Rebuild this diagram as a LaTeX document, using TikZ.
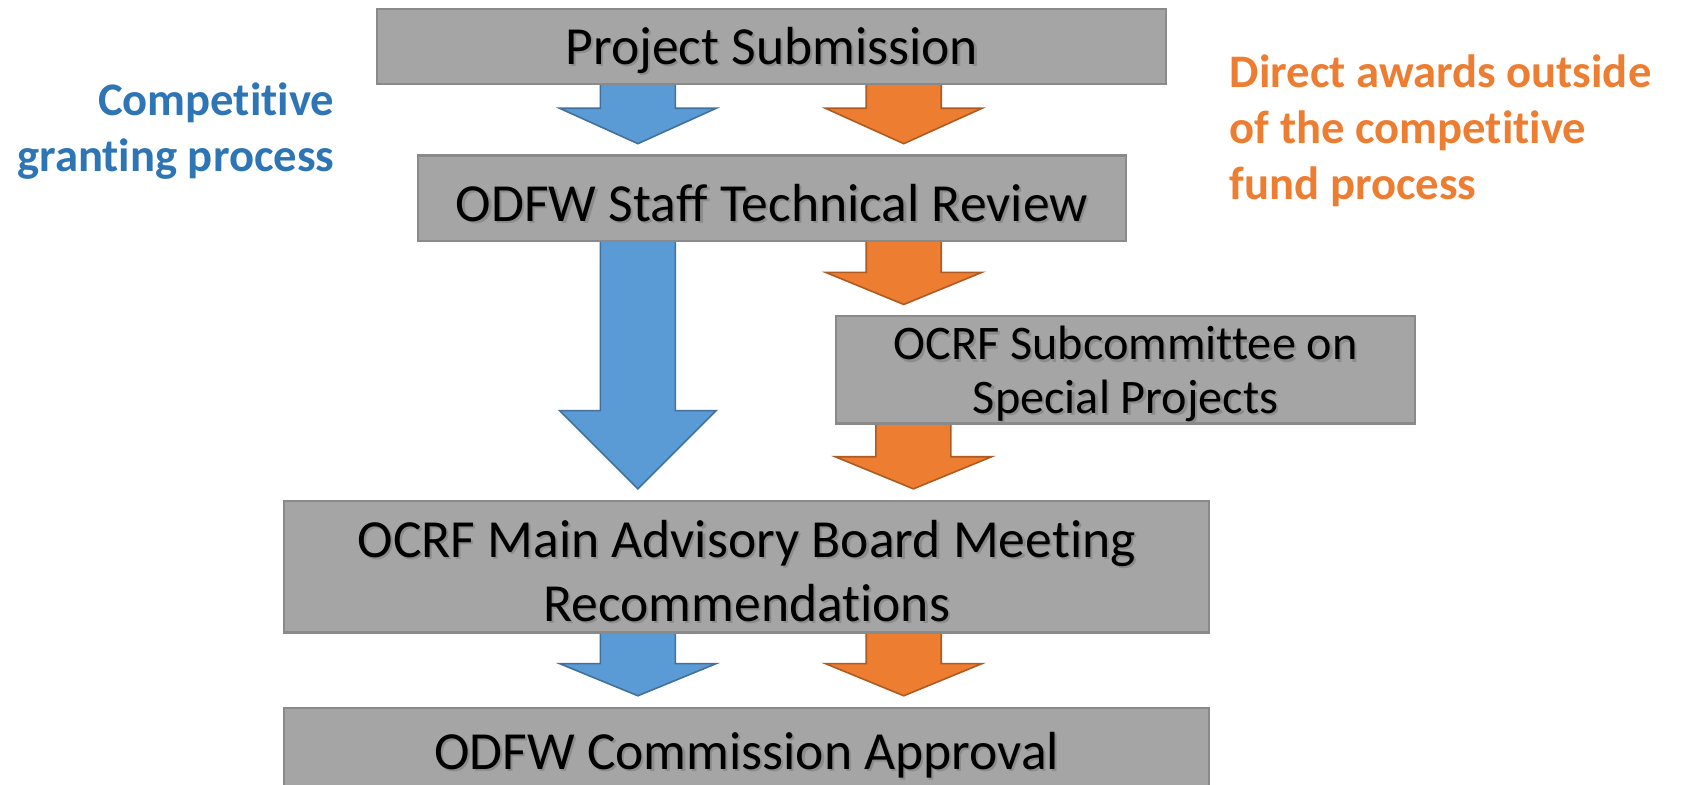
\documentclass[tikz,border=0pt]{standalone}
\usepackage{fontspec}
\setmainfont[Ligatures={NoCommon}]{Carlito}
\usetikzlibrary{calc}
\definecolor{boxgray}{HTML}{A5A5A5}
\definecolor{boxline}{HTML}{8A8A8A}
\definecolor{bfill}{HTML}{5B9BD5}
\definecolor{bline}{HTML}{41719C}
\definecolor{ofill}{HTML}{ED7D31}
\definecolor{oline}{HTML}{AE5A21}
\definecolor{btext}{HTML}{2E75B6}
\definecolor{otext}{HTML}{ED7D31}
\pgfdeclarelayer{bg}
\pgfsetlayers{bg,main}
% #1 style, #2 x centre, #3 from anchor, #4 to anchor, #5 head length
\newcommand\blockarrow[5]{%
  \begin{pgfonlayer}{bg}
  \filldraw[#1] let \p1=(#3), \p2=(#4) in
    ({#2pt-35pt},\y1+4pt) -- ({#2pt+35pt},\y1+4pt) -- ({#2pt+35pt},\y2+10pt+#5pt)
    -- ({#2pt+73pt},\y2+10pt+#5pt) -- (#2pt,\y2+10pt) -- ({#2pt-73pt},\y2+10pt+#5pt)
    -- ({#2pt-35pt},\y2+10pt+#5pt) -- cycle;
  \end{pgfonlayer}}
% #1 style, #2 name, #3 position, #4 text
\newcommand\shtext[4]{%
  \node[#1,shadowtxt] (#2s) at (#3) {#4};
  \node[#1,yshift=-4pt] (#2t) at (#3) {#4};}
\begin{document}
\begin{tikzpicture}[x=1pt,y=-1pt,
  stepbox/.style={draw=boxline, fill=boxgray, line width=2pt, inner sep=0pt},
  boxtxt/.style={font=\fontsize{50}{60}\selectfont, align=center, inner sep=0pt},
  subtxt/.style={font=\fontsize{45}{50}\selectfont, align=center, inner sep=0pt},
  shadowtxt/.style={text=black!45, xshift=2pt, yshift=-6pt},
  barrow/.style={fill=bfill, draw=bline, line width=1.5pt},
  oarrow/.style={fill=ofill, draw=oline, line width=1.5pt},
  sidelab/.style={font=\bfseries\fontsize{43.5}{52}\selectfont, inner sep=0pt}]
\useasboundingbox (0,0) rectangle (1568,732);
\clip (0,0) rectangle (1568,732);

% boxes
\node[stepbox, minimum width=736pt, minimum height=70pt] (ps) at (720,43) {};
\node[stepbox, minimum width=660pt, minimum height=80pt] (tr) at (720,185) {};
\node[stepbox, minimum width=540pt, minimum height=100pt] (sub) at (1050,345) {};
\node[stepbox, minimum width=863pt, minimum height=123pt] (main) at (696.5,528.5) {};
\node[stepbox, minimum width=863pt, minimum height=80pt] (ca) at (696.5,700) {};

% texts
\shtext{boxtxt}{ps}{ps.center}{Project Submission}
\shtext{boxtxt}{tr}{tr.center}{ODFW Staff Technical Review}
\shtext{subtxt}{sub}{sub.center}{OCRF Subcommittee on\\Special Projects}
\shtext{boxtxt}{main}{main.center}{OCRF Main Advisory Board Meeting\\Recommendations}
\shtext{boxtxt}{ca}{ca.center}{ODFW Commission Approval}

% side labels
\node[sidelab, text=btext, align=right, anchor=east] (comp) at (312,122) {Competitive\\granting process};
\node[sidelab, text=otext, align=left, anchor=west] (direct) at (1147,122) {Direct awards outside\\of the competitive\\fund process};

% block arrows
\blockarrow{barrow}{595}{ps.south}{tr.north}{33}
\blockarrow{oarrow}{843}{ps.south}{tr.north}{33}
\blockarrow{barrow}{595}{tr.south}{main.north}{73}
\blockarrow{oarrow}{843}{tr.south}{sub.north}{30}
\blockarrow{oarrow}{852}{sub.south}{main.north}{30}
\blockarrow{barrow}{595}{main.south}{ca.north}{30}
\blockarrow{oarrow}{843}{main.south}{ca.north}{30}
\end{tikzpicture}
\end{document}
